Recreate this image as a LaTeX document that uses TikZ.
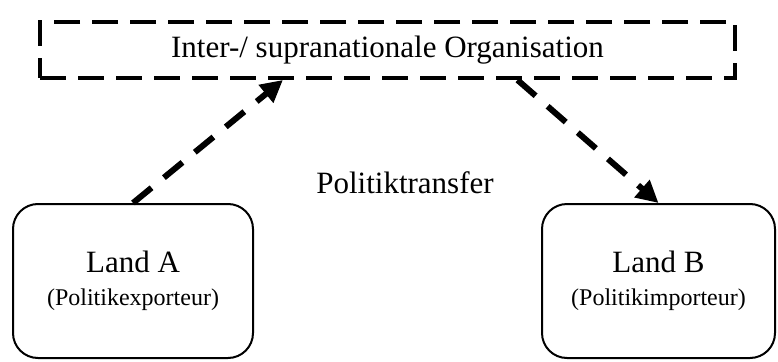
\documentclass[tikz,border=0pt]{standalone}
\usepackage{fontspec}
\setmainfont{Liberation Serif}
\usetikzlibrary{positioning}
\usetikzlibrary{arrows.meta}

\begin{document}
\begin{tikzpicture}[x=1pt, y=-1pt,
	org_box/.style={draw, dash pattern=on 26pt off 12pt, line width=4pt, minimum width=695pt, minimum height=56pt, inner sep=0pt, font=\fontsize{31}{36}\selectfont},
	land_box/.style={draw, rounded corners=25pt, line width=2pt, minimum height=154pt, align=center, inner sep=0pt, font=\fontsize{31}{33}\selectfont},
	transfer/.style={draw, line width=6pt, dash pattern=on 24pt off 16pt, -{Triangle[length=22pt, width=22pt]}}]

	\useasboundingbox (0,0) rectangle (778,361);

	\node (org) [org_box] at (387.5,50) {Inter-/ supranationale Organisation};

	\node (land_a) [land_box, minimum width=240pt] at (133,281) {Land A\\{\fontsize{24}{33}\selectfont (Politikexporteur)}};
	\node (land_b) [land_box, minimum width=233pt] at (658.5,281) {Land B\\{\fontsize{24}{33}\selectfont (Politikimporteur)}};

	\node (transfer_label) [font=\fontsize{31}{36}\selectfont] at (405,183) {Politiktransfer};

	\path[transfer] (land_a.north) -- (org.196);
	\path[transfer] (org.347) -- (land_b.north);

\end{tikzpicture}
\end{document}
